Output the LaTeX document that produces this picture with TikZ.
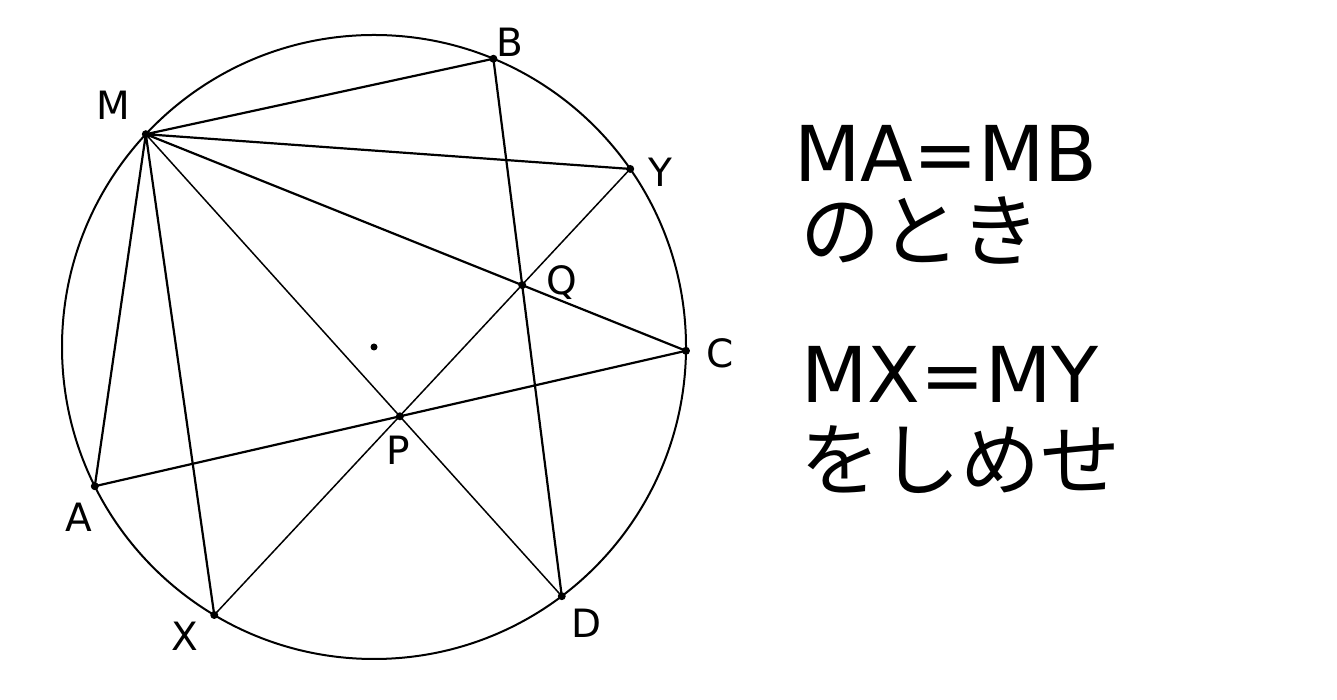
\documentclass[tikz,border=0pt]{standalone}
\usepackage{fontspec}
\setmainfont{DejaVu Sans}
\newfontfamily\jpfont{Noto Sans CJK JP}

\begin{document}
\begin{tikzpicture}[x=0.5pt,y=0.5pt,
    chord/.style={line width=1.1pt},
    thinchord/.style={line width=0.75pt},
    lbl/.style={font=\fontsize{19.5}{21}\selectfont,inner sep=0pt},
    big/.style={font=\fontsize{38.5}{40}\selectfont,anchor=base west,inner sep=0pt},
    jp/.style={font=\jpfont\fontsize{40}{42}\selectfont,anchor=base west,inner sep=0pt,
        text height=0.8em,text depth=0.1em}]
    \useasboundingbox (0,0) rectangle (1337,700);
    \coordinate (O) at (374,353);
    \draw [line width=1pt] (O) circle (312);
    % points on the circle
    \path (O) ++(137:312) coordinate (M);
    \path (O) ++(67.5:312) coordinate (B);
    \path (O) ++(34.8:312) coordinate (Y);
    \path (O) ++(-0.7:312) coordinate (C);
    \path (O) ++(-53:312) coordinate (D);
    \path (O) ++(239.2:312) coordinate (X);
    \path (O) ++(206.5:312) coordinate (A);
    \path (intersection of A--C and M--D) coordinate (P);
    \path (intersection of M--C and B--D) coordinate (Q);
    \draw [chord] (M) -- (B) (M) -- (Y) (M) -- (C) (M) -- (A) (M) -- (X);
    \draw [chord] (A) -- (C) (B) -- (D);
    \draw [thinchord] (M) -- (D) (X) -- (Y);
    \foreach \p in {M,B,Y,C,D,X,A,P,Q}
        \fill (\p) circle (4);
    \fill (O) circle (3.5);
    \node [lbl] (labM) at (113,595) {M};
    \node [lbl] (labB) at (510,658) {B};
    \node [lbl] (labY) at (660,528) {Y};
    \node [lbl] (labQ) at (562,417) {Q};
    \node [lbl] (labC) at (720,347) {C};
    \node [lbl] (labP) at (398,250) {P};
    \node [lbl] (labA) at (79,183) {A};
    \node [lbl] (labX) at (185,64) {X};
    \node [lbl] (labD) at (587,77) {D};
    % statement
    \node [big] (eqA) at (794,518) {MA=MB};
    \node [jp] (condA) at (800,439) {のとき};
    \node [big] (eqX) at (801,297) {MX=MY};
    \node [jp] (goal) at (800,210) {をしめせ};
\end{tikzpicture}
\end{document}
